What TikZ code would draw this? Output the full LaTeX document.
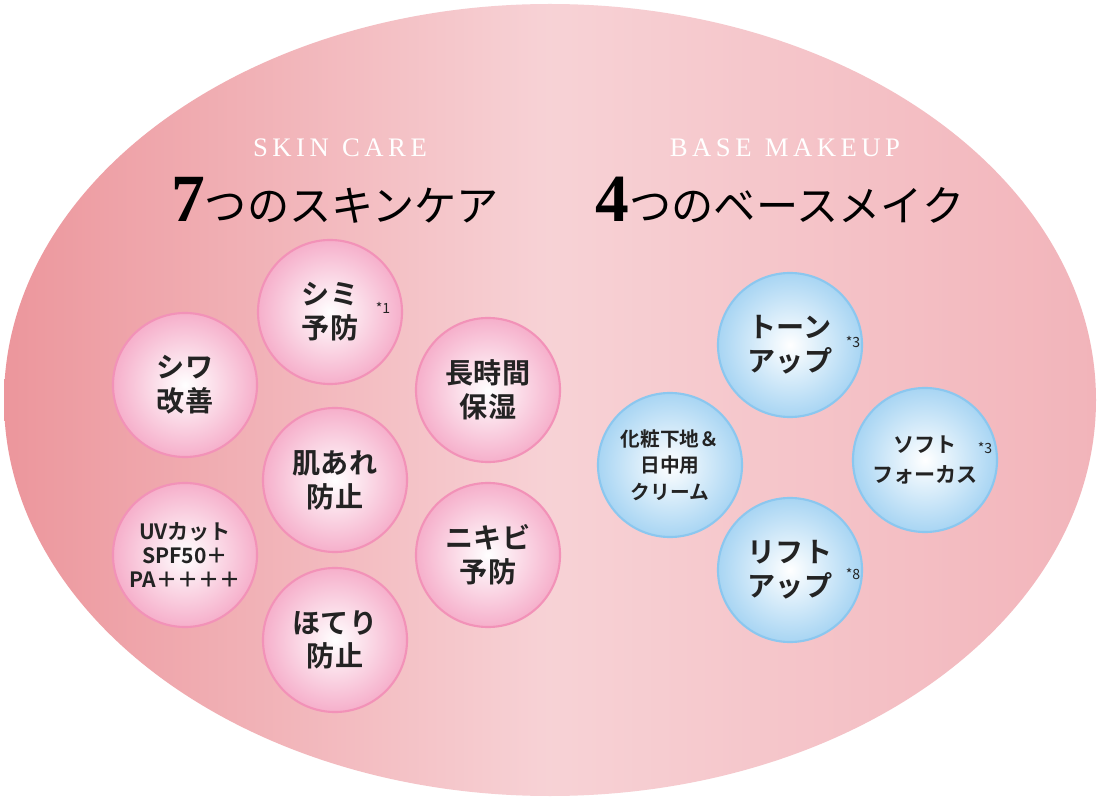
\documentclass[tikz,border=0pt]{standalone}
\usepackage{fontspec}
\newfontfamily\jp{Noto Sans CJK JP}
\newfontfamily\jpb{Noto Sans CJK JP Bold}
\newfontfamily\ser{Liberation Serif}
\definecolor{bgl}{RGB}{236,150,156}
\definecolor{bgr}{RGB}{242,180,186}
\definecolor{pinkedge}{RGB}{238,110,160}
\definecolor{blueedge}{RGB}{110,185,235}
\definecolor{txt}{RGB}{35,35,35}
\tikzset{
  bubble/.style={circle, minimum size=3.6cm, inner sep=0pt, align=center,
    font=\jpb\fontsize{20}{24}\selectfont, text=txt},
  pinkb/.style={bubble, inner color=white, outer color=pinkedge!55, draw=pinkedge!75, line width=1.5pt},
  blueb/.style={bubble, inner color=white, outer color=blueedge!60, draw=blueedge!80, line width=1.5pt},
  note/.style={font=\jp\fontsize{10}{11}\selectfont, text=txt},
  head/.style={font=\ser\fontsize{19}{20}\selectfont, text=white},
  title/.style={font=\jp\fontsize{30}{32}\selectfont, text=black}
}
\begin{document}
\begin{tikzpicture}[x=0.025cm,y=-0.025cm]
\useasboundingbox[fill=white] (0,0) rectangle (1100,800);
\shade[left color=bgl, right color=bgr, middle color=bgr!60!white] (550,400) ellipse [x radius=546, y radius=396];
% headings
\node[head] (skin) at (340,148) {S\,K\,I\,N\ \ C\,A\,R\,E};
\node[title] (t7) at (335,200) {{\ser\bfseries\fontsize{48}{50}\selectfont 7}つのスキンケア};
\node[head] (base) at (785,148) {B\,A\,S\,E\ \ M\,A\,K\,E\,U\,P};
\node[title] (t4) at (780,200) {{\ser\bfseries\fontsize{48}{50}\selectfont 4}つのベースメイク};
% skin care
\node[pinkb] (shimi) at (330,312) {シミ\\予防};
\node[note] (n1) at (383,308) {*1};
\node[pinkb] (shiwa) at (185,385) {シワ\\改善};
\node[pinkb] (hoshitsu) at (488,390) {長時間\\保湿};
\node[pinkb] (hadaare) at (335,480) {肌あれ\\防止};
\node[pinkb, font=\jpb\fontsize{15}{17}\selectfont] (uv) at (185,555) {UVカット\\SPF50＋\\PA＋＋＋＋};
\node[pinkb] (nikibi) at (488,555) {ニキビ\\予防};
\node[pinkb] (hoteri) at (335,640) {ほてり\\防止};
% base makeup
\node[blueb] (tone) at (790,345) {トーン\\アップ};
\node[note] (n3a) at (853,342) {*3};
\node[blueb, font=\jpb\fontsize{14}{19}\selectfont] (shitaji) at (670,465) {化粧下地＆\\日中用\\クリーム};
\node[blueb, font=\jpb\fontsize{15}{21}\selectfont] (soft) at (925,460) {ソフト\\フォーカス};
\node[note] (n3b) at (985,448) {*3};
\node[blueb] (lift) at (790,570) {リフト\\アップ};
\node[note] (n8) at (853,574) {*8};
\end{tikzpicture}
\end{document}
